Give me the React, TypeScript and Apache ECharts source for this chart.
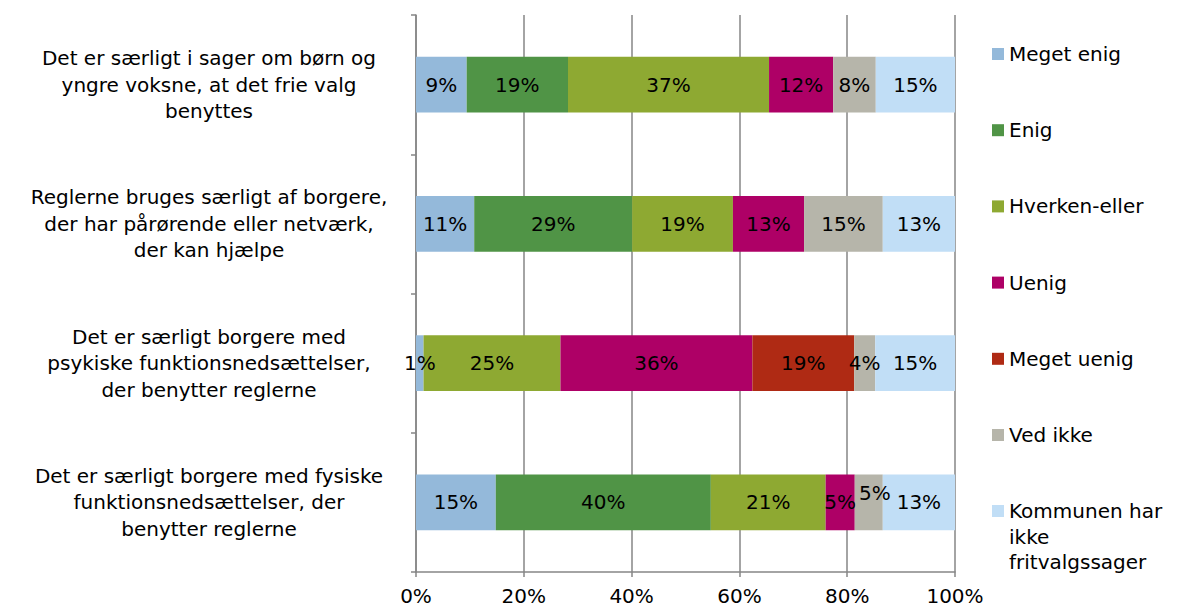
import React, { useEffect, useRef } from "react";
import * as echarts from "echarts";

const categories = [
  "Det er særligt i sager om børn og\nyngre voksne, at det frie valg\nbenyttes",
  "Reglerne bruges særligt af borgere,\nder har pårørende eller netværk,\nder kan hjælpe",
  "Det er særligt borgere med\npsykiske funktionsnedsættelser,\nder benytter reglerne",
  "Det er særligt borgere med fysiske\nfunktionsnedsættelser, der\nbenytter reglerne",
];

const seriesNames = [
  "Meget enig",
  "Enig",
  "Hverken-eller",
  "Uenig",
  "Meget uenig",
  "Ved ikke",
  "Kommunen har ikke fritvalgssager",
];

const megetEnig = [9.4, 10.8, 1.4, 14.8];
const enig = [18.8, 29.3, 0, 39.9];
const hverkenEller = [37.3, 18.7, 25.4, 21.3];
const uenig = [11.9, 13.2, 35.6, 5.4];
const megetUenig = [0, 0, 18.9, 0];
const vedIkke = [7.9, 14.6, 3.9, 5.2];
const kommunen = [14.7, 13.4, 14.8, 13.4];

const seriesValues = [megetEnig, enig, hverkenEller, uenig, megetUenig, vedIkke, kommunen];
const colors = ["#94B9DA", "#509446", "#8EA932", "#AE0066", "#AF2A14", "#B6B5AA", "#C1DEF6"];

const xTicks = [0, 20, 40, 60, 80, 100];

const FONT = "Verdana, 'DejaVu Sans', sans-serif";

export default function App() {
  const ref = useRef<HTMLDivElement>(null);
  useEffect(() => {
    if (!ref.current) return;
    const chart = echarts.init(ref.current, null, { renderer: "svg" });
    const L = 25.5;
    chart.setOption({
      animation: false,
      backgroundColor: "#ffffff",
      textStyle: { fontFamily: FONT },
      grid: { left: 416, right: 222, top: 15, bottom: 36, containLabel: false },
      legend: [
        {
          data: seriesNames.slice(0, 6),
          orient: "vertical",
          left: 992,
          top: 43,
          padding: 0,
          itemWidth: 12,
          itemHeight: 12,
          itemGap: 54.2,
          icon: "rect",
          textStyle: { fontSize: 20, color: "#000", fontFamily: FONT, lineHeight: 22 },
          selectedMode: false,
        },
        {
          data: [seriesNames[6]],
          orient: "vertical",
          left: 992,
          top: 511 - 2.5 * L,
          padding: 0,
          itemWidth: 12,
          itemHeight: 12,
          icon: "rect",
          formatter: () => "\n\nKommunen har\nikke\nfritvalgssager",
          textStyle: {
            fontSize: 20,
            color: "#000",
            fontFamily: FONT,
            lineHeight: L,
          },
          selectedMode: false,
        },
      ],
      xAxis: {
        type: "value",
        min: 0,
        max: 100,
        interval: 20,
        axisLine: { show: true, lineStyle: { color: "#868686", width: 1.5 } },
        axisTick: { show: true, length: 5, lineStyle: { color: "#868686", width: 1.5 } },
        splitLine: { show: true, lineStyle: { color: "#868686", width: 1.5 } },
        axisLabel: {
          formatter: (v: number) => (xTicks.includes(v) ? v + "%" : ""),
          fontSize: 20,
          lineHeight: 20,
          color: "#000",
          fontFamily: FONT,
          margin: 14,
        },
      },
      yAxis: {
        type: "category",
        inverse: true,
        data: categories,
        axisLine: { show: true, lineStyle: { color: "#868686", width: 1.5 } },
        axisTick: { show: true, length: 5, lineStyle: { color: "#868686", width: 1.5 } },
        axisLabel: {
          align: "center",
          margin: 207,
          fontSize: 20,
          lineHeight: 26.5,
          color: "#000",
          fontFamily: FONT,
        },
      },
      series: seriesNames.map((name, i) => ({
        name,
        type: "bar",
        stack: "total",
        barWidth: "40%",
        data: seriesValues[i].map((v, j) =>
          i === 5 && j === 3 ? { value: v, label: { offset: [6, -9] } } : v
        ),
        itemStyle: { color: colors[i] },
        label: {
          show: true,
          position: "inside",
          color: "#000",
          fontSize: 20,
          fontFamily: FONT,
          formatter: (p: any) => (p.value > 0 ? Math.round(p.value) + "%" : ""),
        },
      })),
    });
    return () => chart.dispose();
  }, []);
  return (
    <div
      ref={ref}
      style={{ position: "fixed", left: 0, top: 0, width: 1177, height: 608 }}
    />
  );
}
